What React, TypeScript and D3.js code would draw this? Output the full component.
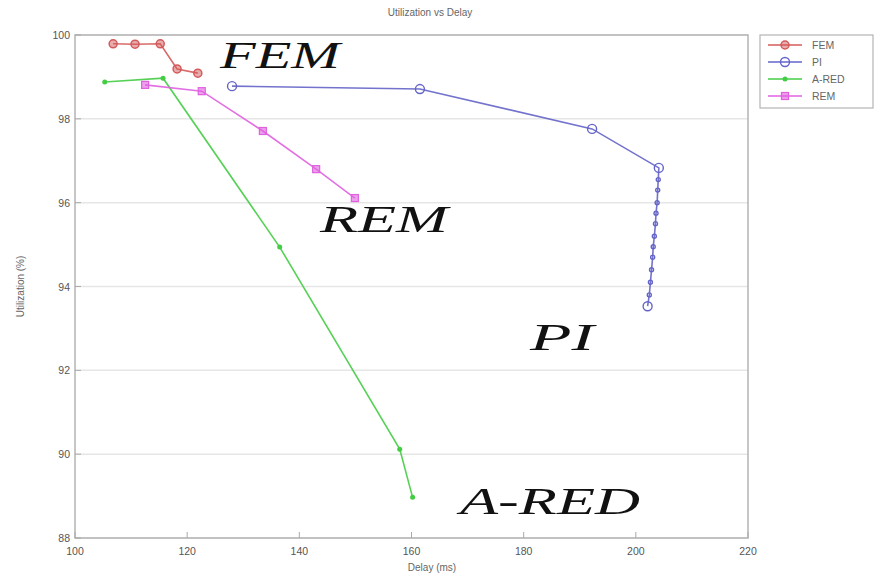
import React from "react";
import * as d3 from "d3";

// series (delay ms, utilization %)
const femDelay = [106.8, 110.7, 115.2, 118.2, 121.9];
const femUtil = [99.79, 99.78, 99.79, 99.19, 99.09];

const piDelay = [128.0, 161.5, 192.2, 204.1, 204.0, 203.9, 203.8, 203.6, 203.5, 203.3, 203.1, 203.0, 202.8, 202.6, 202.4, 202.1];
const piUtil = [98.78, 98.71, 97.76, 96.83, 96.55, 96.3, 96.0, 95.75, 95.5, 95.2, 94.95, 94.7, 94.4, 94.1, 93.8, 93.53];

const aredDelay = [105.3, 115.7, 136.5, 157.9, 160.2];
const aredUtil = [98.88, 98.97, 94.94, 90.12, 88.97];

const remDelay = [112.5, 122.6, 133.5, 143.0, 149.9];
const remUtil = [98.81, 98.66, 97.71, 96.8, 96.11];

const xTicks = [100, 120, 140, 160, 180, 200, 220];
const yTicks = [88, 90, 92, 94, 96, 98, 100];

const series = [
  { name: "FEM", x: femDelay, y: femUtil, color: "#d45a5a", marker: "circle" },
  { name: "PI", x: piDelay, y: piUtil, color: "#6464c8", marker: "ring" },
  { name: "A-RED", x: aredDelay, y: aredUtil, color: "#44cc44", marker: "dot" },
  { name: "REM", x: remDelay, y: remUtil, color: "#e060e0", marker: "square" },
];

// big italic labels placed next to the curves
const notes = [
  { text: "FEM", x: 220, y: 68, w: 120 },
  { text: "REM", x: 320, y: 232, w: 128 },
  { text: "PI", x: 530, y: 350, w: 64 },
  { text: "A-RED", x: 460, y: 514, w: 180 },
];

const Marker = ({ kind, cx, cy, color, small }: any) => {
  if (kind === "square")
    return <rect x={cx - 3.5} y={cy - 3.5} width={7} height={7} fill={color} fillOpacity={0.6} stroke={color} strokeWidth={1.2} />;
  if (kind === "dot") return <circle cx={cx} cy={cy} r={2.5} fill={color} />;
  if (kind === "ring")
    return <circle cx={cx} cy={cy} r={small ? 2 : 4.5} fill="none" stroke={color} strokeWidth={1.4} />;
  return <circle cx={cx} cy={cy} r={4} fill={color} fillOpacity={0.5} stroke={color} strokeWidth={1.5} />;
};

const App = () => {
  const width = 875;
  const height = 577;
  const left = 75, right = 748, top = 35, bottom = 538;

  const x = d3.scaleLinear().domain([100, 220]).range([left, right]);
  const y = d3.scaleLinear().domain([88, 100]).range([bottom, top]);

  return (
    <svg width={width} height={height} style={{ position: "absolute", left: 0, top: 0, background: "#fff" }}>
      <text x={430} y={16} textAnchor="middle" fontFamily="Arial, Liberation Sans" fontSize={10} fill="#666">
        Utilization vs Delay
      </text>

      {/* grid */}
      {yTicks.map((t) => (
        <line key={"g" + t} x1={left} x2={right} y1={y(t)} y2={y(t)} stroke="#e6e6e6" strokeWidth={1.5} />
      ))}

      {/* frame */}
      <rect x={left} y={top} width={right - left} height={bottom - top} fill="none" stroke="#b4b4b4" strokeWidth={1.5} />

      {/* ticks and labels */}
      {yTicks.map((t) => (
        <g key={"y" + t}>
          <line x1={left} x2={left + 6} y1={y(t)} y2={y(t)} stroke="#aaa" />
          <text x={left - 5} y={y(t) + 4} textAnchor="end" fontFamily="Arial, Liberation Sans" fontSize={10.5} fill="#555">
            {t}
          </text>
        </g>
      ))}
      {xTicks.map((t) => (
        <g key={"x" + t}>
          <line x1={x(t)} x2={x(t)} y1={bottom} y2={bottom - 6} stroke="#aaa" />
          <text x={x(t)} y={bottom + 17} textAnchor="middle" fontFamily="Arial, Liberation Sans" fontSize={10.5} fill="#555">
            {t}
          </text>
        </g>
      ))}
      <text x={432} y={571} textAnchor="middle" fontFamily="Arial, Liberation Sans" fontSize={10} fill="#666">
        Delay (ms)
      </text>
      <text
        transform={`translate(24,${(top + bottom) / 2}) rotate(-90)`}
        textAnchor="middle"
        fontFamily="Arial, Liberation Sans"
        fontSize={10}
        fill="#666"
      >
        Utilization (%)
      </text>

      {/* series */}
      {series.map((s) => {
        const pts = s.x.map((v, i) => [x(v), y(s.y[i])] as [number, number]);
        const path = d3.line()(pts);
        return (
          <g key={s.name}>
            <path d={path || ""} fill="none" stroke={s.color} strokeWidth={1.6} strokeOpacity={0.9} />
            {pts.map((p, i) => (
              <Marker
                key={i}
                kind={s.marker}
                cx={p[0]}
                cy={p[1]}
                color={s.color}
                small={s.marker === "ring" && i > 3 && i < pts.length - 1}
              />
            ))}
          </g>
        );
      })}

      {/* annotations */}
      {notes.map((n) => (
        <text
          key={n.text}
          x={n.x}
          y={n.y}
          fontFamily="Liberation Serif, Times New Roman, serif"
          fontStyle="italic"
          fontSize={38}
          fill="#111"
          textLength={n.w}
          lengthAdjust="spacingAndGlyphs"
        >
          {n.text}
        </text>
      ))}

      {/* legend */}
      <rect x={760} y={35} width={113} height={73} fill="#fff" stroke="#b4b4b4" strokeWidth={1.2} />
      {series.map((s, i) => {
        const ly = 45 + i * 17;
        return (
          <g key={"l" + s.name}>
            <line x1={768} x2={802} y1={ly} y2={ly} stroke={s.color} strokeWidth={1.6} />
            <Marker kind={s.marker} cx={785} cy={ly} color={s.color} />
            <text x={812} y={ly + 4} fontFamily="Arial, Liberation Sans" fontSize={10.5} fill="#666">
              {s.name}
            </text>
          </g>
        );
      })}
    </svg>
  );
};

export default App;
